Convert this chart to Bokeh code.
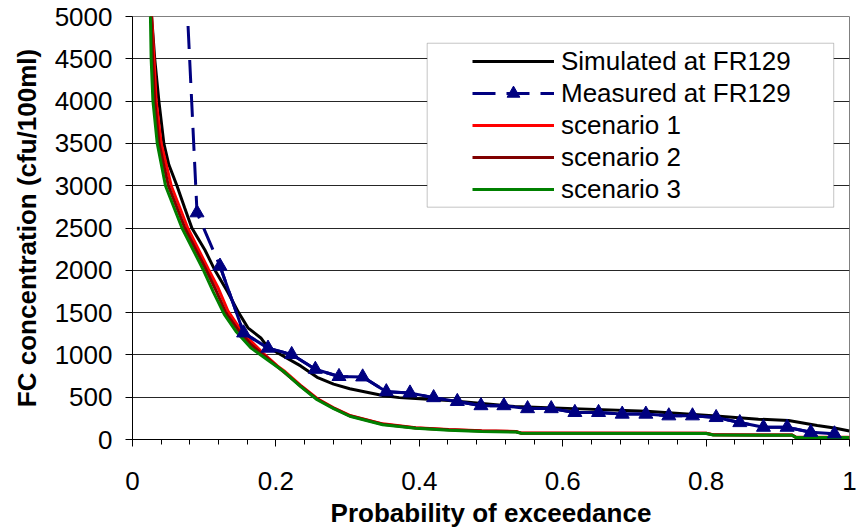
from bokeh.plotting import figure
from bokeh.models import Range1d, FixedTicker, Legend, LegendItem, BoxAnnotation
from bokeh.embed import file_html
from bokeh.resources import INLINE

# ---------------- data ----------------
x_ticks = [0, 0.2, 0.4, 0.6, 0.8, 1.0]
x_tick_labels = ["0", "0.2", "0.4", "0.6", "0.8", "1"]
x_minor_ticks = [0.04 * k for k in range(26)]
y_ticks = [0, 500, 1000, 1500, 2000, 2500, 3000, 3500, 4000, 4500, 5000]
y_tick_labels = ["0", "500", "1000", "1500", "2000", "2500", "3000", "3500", "4000", "4500", "5000"]

sim_p = [0.020, 0.0267, 0.031, 0.0368, 0.0437, 0.0506, 0.062, 0.0727, 0.0828, 0.101, 0.115,
         0.1324, 0.148, 0.161, 0.179, 0.186, 0.202, 0.2345, 0.2575, 0.2805, 0.303, 0.349,
         0.372, 0.441, 0.533, 0.625, 0.717, 0.809, 0.873, 0.915, 0.955, 0.979, 1.0]
sim_fc = [5800, 5000, 4500, 4000, 3500, 3250, 3000, 2740, 2500, 2240, 2000,
          1750, 1500, 1320, 1200, 1120, 1025, 870, 735, 655, 600, 520,
          495, 460, 390, 362, 335, 282, 240, 225, 165, 135, 100]

meas_p = [0.057, 0.090, 0.122, 0.155, 0.189, 0.222, 0.255, 0.288, 0.321, 0.354, 0.387,
          0.420, 0.453, 0.486, 0.518, 0.551, 0.584, 0.617, 0.650, 0.683, 0.716, 0.748,
          0.781, 0.814, 0.847, 0.880, 0.913, 0.946, 0.979]
meas_fc = [8500, 2680, 2050, 1260, 1080, 1005, 830, 745, 740, 565, 550,
           495, 450, 400, 400, 365, 365, 320, 320, 300, 300, 280,
           280, 260, 200, 145, 145, 85, 67]

s1_p = [0.020, 0.0267, 0.030, 0.033, 0.040, 0.054, 0.077, 0.106, 0.1195, 0.133, 0.149,
        0.1655, 0.184, 0.202, 0.2115, 0.2345, 0.2575, 0.2805, 0.303, 0.349, 0.395, 0.441,
        0.487, 0.535, 0.542, 0.80, 0.81, 0.92, 0.925, 1.0]
s1_fc = [5800, 5000, 4500, 4000, 3500, 3000, 2500, 2010, 1790, 1520, 1320,
         1160, 1005, 870, 810, 640, 485, 375, 285, 185, 140, 118,
         102, 95, 76, 74, 56, 53, 28, 26]

s2_p = [0.019, 0.026, 0.028, 0.031, 0.037, 0.050, 0.073, 0.103, 0.116, 0.130, 0.147,
        0.1655, 0.186, 0.207, 0.2345, 0.2575, 0.2805, 0.303, 0.349, 0.395, 0.441, 0.487,
        0.535, 0.542, 0.80, 0.81, 0.92, 0.925, 1.0]
s2_fc = [5800, 5000, 4500, 4000, 3500, 3000, 2500, 2000, 1770, 1500, 1300,
         1120, 975, 825, 632, 478, 370, 280, 180, 136, 114, 100,
         92, 75, 73, 55, 52, 27, 25]

s3_p = [0.019, 0.025, 0.026, 0.0285, 0.0345, 0.046, 0.069, 0.099, 0.113, 0.128, 0.145,
        0.1655, 0.1885, 0.2115, 0.2345, 0.2575, 0.2805, 0.303, 0.349, 0.395, 0.441, 0.487,
        0.535, 0.542, 0.80, 0.81, 0.92, 0.925, 1.0]
s3_fc = [5800, 5000, 4500, 4000, 3500, 3000, 2500, 2000, 1740, 1480, 1270,
         1080, 940, 800, 625, 470, 365, 275, 175, 132, 110, 96,
         88, 73, 71, 53, 50, 25, 23]

series_names = ["Simulated at FR129", "Measured at FR129", "scenario 1", "scenario 2", "scenario 3"]

FONT = "Liberation Sans"
FS = "26px"

p = figure(width=858, height=531, x_range=Range1d(0, 1), y_range=Range1d(0, 5000),
           output_backend="svg", toolbar_location=None,
           min_border_left=132, min_border_right=9, min_border_top=16, min_border_bottom=92)
p.background_fill_color = "white"
p.border_fill_color = "white"
p.outline_line_color = "#808080"
p.outline_line_width = 1

# grid
p.xgrid.visible = False
p.ygrid.ticker = FixedTicker(ticks=y_ticks)
p.ygrid.grid_line_color = "#000000"
p.ygrid.grid_line_width = 1
p.ygrid.grid_line_alpha = 0.85

# axes
p.xaxis.ticker = FixedTicker(ticks=x_ticks, minor_ticks=x_minor_ticks)
p.xaxis.major_label_overrides = dict(zip(x_ticks, x_tick_labels))
p.yaxis.ticker = FixedTicker(ticks=y_ticks)
p.yaxis.major_label_overrides = dict(zip(y_ticks, y_tick_labels))
for ax in (p.xaxis[0], p.yaxis[0]):
    ax.axis_line_color = "black"
    ax.axis_line_width = 1
    ax.major_tick_line_color = "black"
    ax.major_tick_in = 0
    ax.major_tick_out = 7
    ax.minor_tick_in = 0
    ax.major_label_text_font = FONT
    ax.major_label_text_font_size = FS
    ax.major_label_text_color = "black"
    ax.axis_label_text_font = FONT
    ax.axis_label_text_font_size = FS
    ax.axis_label_text_font_style = "bold"
    ax.axis_label_text_color = "black"
p.xaxis.minor_tick_out = 5
p.xaxis.minor_tick_line_color = "black"
p.yaxis.minor_tick_line_color = None
p.xaxis.major_label_standoff = 25
p.yaxis.major_label_standoff = 13
p.xaxis.axis_label = "Probability of exceedance"
p.yaxis.axis_label = "FC concentration (cfu/100ml)"
p.xaxis.axis_label_standoff = 5
p.yaxis.axis_label_standoff = 10

# series
r_sim = p.line(sim_p, sim_fc, line_color="#000000", line_width=3)
r_s1 = p.line(s1_p, s1_fc, line_color="#FF0000", line_width=3)
r_s2 = p.line(s2_p, s2_fc, line_color="#800000", line_width=3)
r_s3 = p.line(s3_p, s3_fc, line_color="#008000", line_width=3)
r_meas_dash = p.line(meas_p, meas_fc, line_color="#000080", line_width=3, line_dash="23 11")
r_meas_solid = p.line(meas_p[2:], meas_fc[2:], line_color="#000080", line_width=3)
r_meas_pts = p.scatter(meas_p, meas_fc, marker="triangle", size=14,
                       fill_color="#000080", line_color="#000080")

# legend frame
box = BoxAnnotation(left=0.411, right=0.978, bottom=2746, top=4684,
                    fill_color="white", fill_alpha=1.0,
                    line_color="#404040", line_width=1)
p.add_layout(box)

legend = Legend(items=[
    LegendItem(label=series_names[0], renderers=[r_sim]),
    LegendItem(label=series_names[1], renderers=[r_meas_dash, r_meas_pts]),
    LegendItem(label=series_names[2], renderers=[r_s1]),
    LegendItem(label=series_names[3], renderers=[r_s2]),
    LegendItem(label=series_names[4], renderers=[r_s3]),
], location=(340, 234))
legend.padding = 4
legend.spacing = 0
legend.glyph_width = 82
legend.glyph_height = 32
legend.label_height = 32
legend.label_standoff = 7
legend.label_text_font = FONT
legend.label_text_font_size = FS
legend.label_text_color = "black"
legend.border_line_color = None
legend.background_fill_alpha = 0
legend.margin = 0
p.add_layout(legend, "center")

open("out.html", "w").write(file_html(p, INLINE))
